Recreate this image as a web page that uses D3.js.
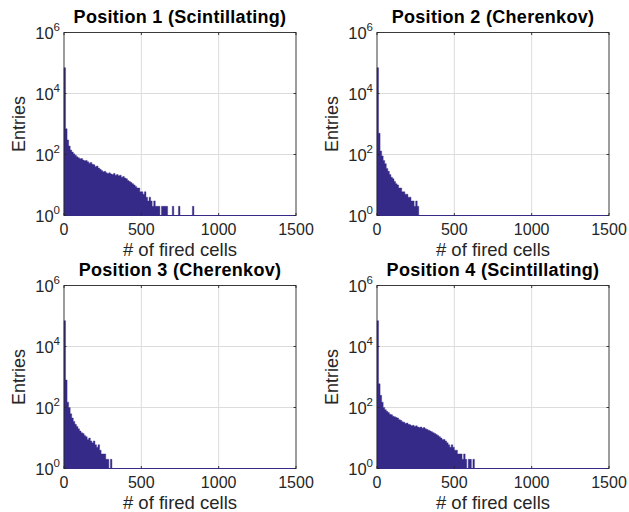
<!DOCTYPE html>
<html>
<head>
<meta charset="utf-8">
<script src="https://cdn.jsdelivr.net/npm/d3@7"></script>
<style>
  html, body { margin: 0; padding: 0; background: #fff; }
  svg { display: block; font-family: "Liberation Sans", Arial, Helvetica, sans-serif; }
</style>
</head>
<body>
<svg id="chart" width="629" height="512"></svg>
<script>
// ---- data (bin width = 10 fired cells, bins start at 0) ----
const binWidth = 10;
const titles = [
  "Position 1 (Scintillating)",
  "Position 2 (Cherenkov)",
  "Position 3 (Cherenkov)",
  "Position 4 (Scintillating)"
];
const pos1Counts = [70000, 700, 300, 190, 140, 120, 105, 95, 85, 78,
  72, 74, 66, 62, 64, 58, 52, 55, 48, 46,
  40, 42, 36, 33, 30, 27, 28, 25, 24, 25,
  23, 22, 24, 21, 22, 20, 21, 18, 19, 17,
  16, 14, 13, 12, 11, 10, 9, 8, 8, 6,
  6, 5, 6, 4, 3, 4, 3, 2, 3, 2,
  2, 2, 1, 2, 2, 2, 2, 1, 1, 0,
  2, 0, 0, 0, 2, 0, 0, 0, 0, 0,
  0, 0, 0, 2];
const pos2Counts = [70000, 500, 130, 90, 63, 50, 35, 28, 22, 18,
  16, 13, 11, 10, 8, 8, 6, 6, 5, 5,
  4, 4, 3, 3, 2, 3, 2];
const pos3Counts = [70000, 800, 150, 100, 62, 45, 35, 28, 24, 20,
  17, 15, 14, 12, 11, 9, 10, 8, 7, 8,
  6, 5, 6, 4, 3, 3, 3, 2, 2, 1,
  2];
const pos4Counts = [70000, 600, 250, 150, 100, 85, 75, 68, 60, 58,
  52, 50, 47, 45, 40, 38, 34, 33, 30, 31,
  28, 27, 25, 26, 24, 25, 23, 22, 23, 21,
  22, 20, 19, 18, 17, 16, 15, 14, 13, 12,
  11, 10, 9, 9, 8, 7, 6, 5, 6, 5,
  4, 4, 3, 3, 3, 2, 3, 2, 1, 2,
  2, 1, 2];
const seriesCounts = [pos1Counts, pos2Counts, pos3Counts, pos4Counts];
const xTickValues = [0, 500, 1000, 1500];
const yTickExponents = [0, 2, 4, 6];
const xLabel = "# of fired cells";
const yLabel = "Entries";

// ---- layout ----
const colX = [64, 377];
const rowY = [32.5, 285.5];
const pw = 232, ph = 183;
const barColor = "#352A87";
const axisColor = "#262626";
const gridColor = "#dcdcdc";

const svg = d3.select("#chart");

seriesCounts.forEach((counts, i) => {
  const gx = colX[i % 2], gy = rowY[Math.floor(i / 2)];
  const g = svg.append("g").attr("transform", `translate(${gx},${gy})`);

  const x = d3.scaleLinear().domain([0, 1500]).range([0, pw]);
  const y = d3.scaleLog().domain([1, 1e6]).range([ph, 0]);

  // grid
  g.selectAll(".gx").data(xTickValues.filter(v => v > 0 && v < 1500)).join("line")
    .attr("x1", d => x(d)).attr("x2", d => x(d)).attr("y1", 0).attr("y2", ph)
    .attr("stroke", gridColor).attr("stroke-width", 1);
  g.selectAll(".gy").data(yTickExponents.filter(e => e > 0 && e < 6)).join("line")
    .attr("y1", d => y(Math.pow(10, d))).attr("y2", d => y(Math.pow(10, d)))
    .attr("x1", 0).attr("x2", pw)
    .attr("stroke", gridColor).attr("stroke-width", 1);

  // histogram (stepped area)
  const pts = counts.map((c, j) => ({ x0: j * binWidth, c: Math.max(c, 1) }));
  pts.push({ x0: counts.length * binWidth, c: 1 });
  const area = d3.area()
    .x(d => x(d.x0))
    .y0(ph)
    .y1(d => y(d.c))
    .curve(d3.curveStepAfter);
  g.append("path").datum(pts).attr("d", area)
    .attr("fill", barColor).attr("stroke", barColor).attr("stroke-width", 0.4);

  // axes box
  g.append("rect").attr("x", 0).attr("y", 0).attr("width", pw).attr("height", ph)
    .attr("fill", "none").attr("stroke", axisColor).attr("stroke-width", 0.9);

  // baseline of histogram
  g.append("line").attr("x1", 0).attr("x2", pw).attr("y1", ph).attr("y2", ph)
    .attr("stroke", barColor).attr("stroke-width", 1.2);

  // tick marks (inward)
  const tl = 2.5;
  xTickValues.forEach(v => {
    g.append("line").attr("x1", x(v)).attr("x2", x(v)).attr("y1", ph).attr("y2", ph - tl).attr("stroke", axisColor).attr("stroke-width", 0.9);
    g.append("line").attr("x1", x(v)).attr("x2", x(v)).attr("y1", 0).attr("y2", tl).attr("stroke", axisColor).attr("stroke-width", 0.9);
  });
  yTickExponents.forEach(e => {
    const yy = y(Math.pow(10, e));
    g.append("line").attr("x1", 0).attr("x2", tl).attr("y1", yy).attr("y2", yy).attr("stroke", axisColor).attr("stroke-width", 0.9);
    g.append("line").attr("x1", pw).attr("x2", pw - tl).attr("y1", yy).attr("y2", yy).attr("stroke", axisColor).attr("stroke-width", 0.9);
  });

  // x tick labels
  g.selectAll(".xt").data(xTickValues).join("text")
    .attr("x", d => x(d)).attr("y", ph + 19.5)
    .attr("text-anchor", "middle").attr("font-size", 16).attr("fill", axisColor)
    .text(d => d);

  // y tick labels 10^n
  yTickExponents.forEach(e => {
    const t = g.append("text")
      .attr("x", -4).attr("y", y(Math.pow(10, e)) + 6.5)
      .attr("text-anchor", "end").attr("font-size", 16.5).attr("fill", axisColor);
    t.append("tspan").text("10");
    t.append("tspan").attr("font-size", 11.5).attr("dy", -8.5).text(e);
  });

  // axis labels
  g.append("text").attr("x", pw / 2).attr("y", ph + 40)
    .attr("text-anchor", "middle").attr("font-size", 18.5).attr("fill", axisColor)
    .text(xLabel);
  g.append("text").attr("transform", `translate(-39,${ph / 2}) rotate(-90)`)
    .attr("text-anchor", "middle").attr("font-size", 18).attr("fill", axisColor)
    .text(yLabel);

  // title
  g.append("text").attr("x", pw / 2).attr("y", -9.5)
    .attr("text-anchor", "middle").attr("font-size", 18).attr("font-weight", "bold")
    .attr("letter-spacing", 0.3)
    .attr("fill", "#000").text(titles[i]);
});
</script>
</body>
</html>
